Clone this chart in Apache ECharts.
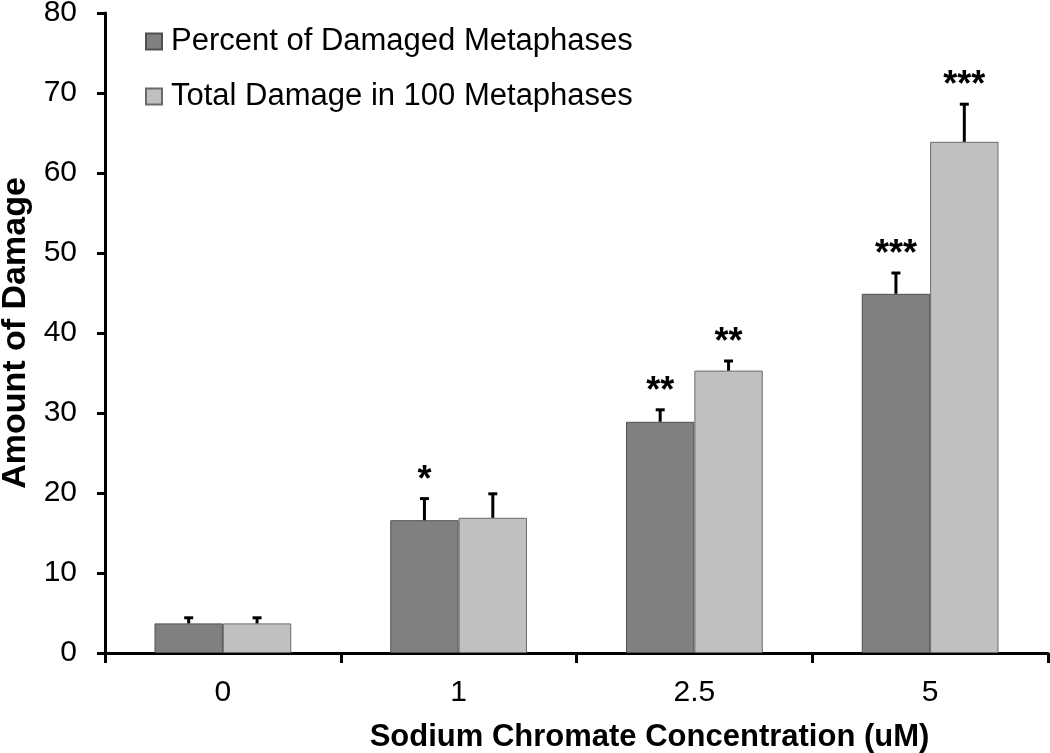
<!DOCTYPE html>
<html>
<head>
<meta charset="utf-8">
<script src="https://cdn.jsdelivr.net/npm/echarts@6/dist/echarts.min.js"></script>
<style>html,body{margin:0;padding:0;background:#fff}#c{width:1050px;height:753px}</style>
</head>
<body>
<div id="c"></div>
<script>
const categories = ['0', '1', '2.5', '5'];
const seriesNames = ['Percent of Damaged Metaphases', 'Total Damage in 100 Metaphases'];
const percentDamaged = [3.7, 16.6, 28.9, 44.9];
const percentDamagedErr = [0.7, 2.7, 1.5, 2.6];
const totalDamage = [3.7, 16.9, 35.3, 63.9];
const totalDamageErr = [0.7, 3.0, 1.2, 4.7];
const percentStars = ['', '*', '**', '***'];
const totalStars = ['', '', '**', '***'];
const yTicks = { min: 0, max: 80, interval: 10 };

const FONT = 'Liberation Sans, Arial, sans-serif';
const BAR_FRAC = 0.29;

function errSeries(values, errs, stars, side) {
  return {
    type: 'custom',
    silent: true,
    z: 5,
    data: values.map((v, i) => [i, v, errs[i]]),
    renderItem: function (params, api) {
      const i = api.value(0);
      const v = api.value(1);
      const e = api.value(2);
      const star = stars[i];
      const band = api.size([1, 0])[0];
      const off = side * band * BAR_FRAC / 2;
      const base = api.coord([i, v]);
      const top = api.coord([i, v + e]);
      const x = base[0] + off;
      const children = [
        { type: 'line', shape: { x1: x, y1: base[1], x2: x, y2: top[1] }, style: { stroke: '#000', lineWidth: 3 } },
        { type: 'line', shape: { x1: x - 4.5, y1: top[1], x2: x + 4.5, y2: top[1] }, style: { stroke: '#000', lineWidth: 3 } }
      ];
      if (star) {
        children.push({
          type: 'text',
          style: { text: star, x: x, y: top[1] - 18, align: 'center', verticalAlign: 'middle', font: 'bold 36px ' + FONT, fill: '#000' }
        });
      }
      return { type: 'group', children: children };
    }
  };
}

const chart = echarts.init(document.getElementById('c'));
chart.setOption({
  animation: false,
  backgroundColor: '#fff',
  grid: { left: 105, right: 2, top: 13, bottom: 100, containLabel: false, outerBoundsMode: 'none' },
  legend: {
    orient: 'vertical',
    left: 140,
    top: 21,
    itemWidth: 16,
    itemHeight: 16,
    itemGap: 24,
    icon: 'rect',
    textStyle: { fontFamily: FONT, fontSize: 31, color: '#000', padding: [0, 0, 0, 4] },
    data: seriesNames
  },
  xAxis: {
    type: 'category',
    data: categories,
    name: 'Sodium Chromate Concentration (uM)',
    nameLocation: 'middle',
    nameGap: 69,
    nameTextStyle: { fontFamily: FONT, fontSize: 31, fontWeight: 'bold', color: '#000', padding: [0, 0, 0, 146] },
    axisLine: { lineStyle: { color: '#000', width: 3 } },
    axisTick: { show: true, alignWithLabel: false, length: 10, lineStyle: { color: '#000', width: 3 } },
    axisLabel: { fontFamily: FONT, fontSize: 30, color: '#000', margin: 25 },
    splitLine: { show: false }
  },
  yAxis: {
    type: 'value',
    min: yTicks.min,
    max: yTicks.max,
    interval: yTicks.interval,
    name: 'Amount of Damage',
    nameLocation: 'middle',
    nameGap: 66,
    nameRotate: 90,
    nameTextStyle: { fontFamily: FONT, fontSize: 34, fontWeight: 'bold', color: '#000' },
    axisLine: { show: true, lineStyle: { color: '#000', width: 3 } },
    axisTick: { show: true, length: 8, lineStyle: { color: '#000', width: 3 } },
    axisLabel: { fontFamily: FONT, fontSize: 30, color: '#000', margin: 28 },
    splitLine: { show: false }
  },
  series: [
    {
      name: seriesNames[0], type: 'bar', data: percentDamaged,
      barWidth: (BAR_FRAC * 100) + '%', barGap: '0%',
      itemStyle: { color: '#808080', borderColor: '#505050', borderWidth: 1 }
    },
    {
      name: seriesNames[1], type: 'bar', data: totalDamage,
      barWidth: (BAR_FRAC * 100) + '%', barGap: '0%',
      itemStyle: { color: '#c0c0c0', borderColor: '#6a6a6a', borderWidth: 1 }
    },
    errSeries(percentDamaged, percentDamagedErr, percentStars, -1),
    errSeries(totalDamage, totalDamageErr, totalStars, 1)
  ]
});
</script>
</body>
</html>
